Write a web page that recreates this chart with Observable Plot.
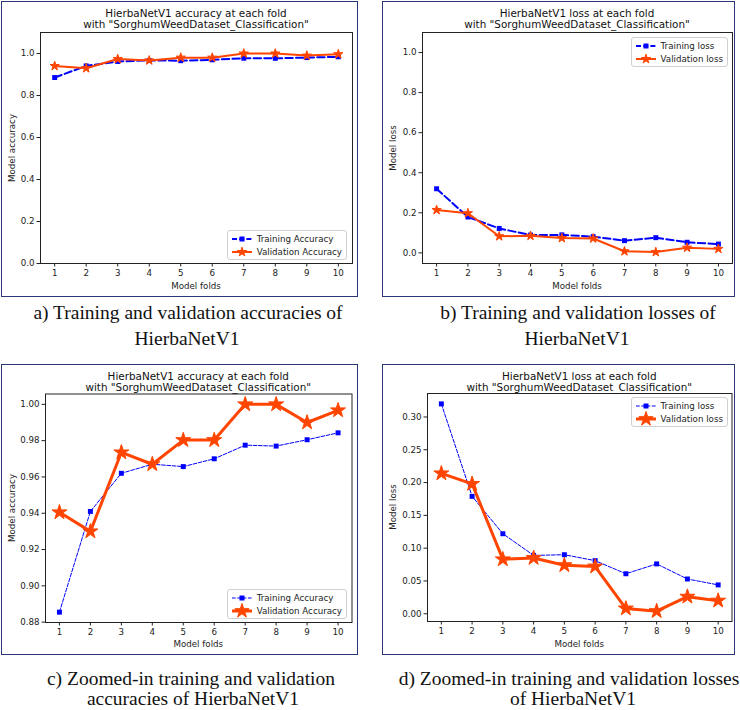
<!DOCTYPE html>
<html>
<head>
<meta charset="utf-8">
<script src="https://cdn.jsdelivr.net/npm/d3@7"></script>
<script src="https://cdn.jsdelivr.net/npm/@observablehq/plot@0.6"></script>
<style>
  body { margin: 0; background: #fff; }
  #root { position: relative; width: 740px; height: 710px; background: #fff; overflow: hidden; }
  .border { position: absolute; border: 1.5px solid #2a3878; box-sizing: border-box; }
  .title { position: absolute; font-family: "DejaVu Sans", sans-serif; font-size: 10.4px; line-height: 11.5px; color: #111; text-align: center; white-space: nowrap; transform: translateX(-50%); }
  .axlab { position: absolute; font-family: "DejaVu Sans", sans-serif; font-size: 8.7px; line-height: 10px; color: #222; white-space: nowrap; }
  .caption { position: absolute; font-family: "Liberation Serif", "Times New Roman", serif; font-size: 19.5px; line-height: 14px; color: #111; text-align: center; white-space: nowrap; transform: translateX(-50%); }
  .legend { position: absolute; background: #fff; border: 1px solid #d0d0d0; border-radius: 3px; box-sizing: border-box; font-family: "DejaVu Sans", sans-serif; font-size: 8.7px; color: #222; padding: 1px 4px 1px 3px; }
  .legend .row { display: flex; align-items: center; height: 13px; white-space: nowrap; }
  .legend svg { margin-right: 4px; }
</style>
</head>
<body>
<div id="root"></div>
<script>
// ---- data ----
const folds = [1, 2, 3, 4, 5, 6, 7, 8, 9, 10];
const trainAcc = [0.8855, 0.941, 0.962, 0.967, 0.9657, 0.970, 0.9775, 0.977, 0.9805, 0.9843];
const valAcc = [0.9405, 0.930, 0.9735, 0.967, 0.9803, 0.9803, 1.000, 1.000, 0.990, 0.9967];
const trainLoss = [0.320, 0.179, 0.122, 0.089, 0.090, 0.081, 0.061, 0.076, 0.053, 0.044];
const valLoss = [0.214, 0.198, 0.083, 0.085, 0.074, 0.072, 0.008, 0.004, 0.026, 0.020];

const ticksFull = [0, 0.2, 0.4, 0.6, 0.8, 1.0];
const ticksAccZoom = [0.88, 0.90, 0.92, 0.94, 0.96, 0.98, 1.00];
const ticksLossZoom = [0, 0.05, 0.10, 0.15, 0.20, 0.25, 0.30];

const titlesLine1 = ["HierbaNetV1 accuracy at each fold", "HierbaNetV1 loss at each fold"];
const titleLine2 = 'with "SorghumWeedDataset_Classification"';
const legendAcc = ["Training Accuracy", "Validation Accuracy"];
const legendLoss = ["Training loss", "Validation loss"];
const captions = [
  ["a) Training and validation accuracies of", "HierbaNetV1"],
  ["b) Training and validation losses of", "HierbaNetV1"],
  ["c) Zoomed-in training and validation", "accuracies of HierbaNetV1"],
  ["d) Zoomed-in training and validation losses", "of HierbaNetV1"]
];

const BLUE = "#0000ff";
const RED = "#ff4500";
const root = document.getElementById("root");

function el(cls, html, css) {
  const d = document.createElement("div");
  d.className = cls;
  if (html != null) d.innerHTML = html;
  Object.assign(d.style, css);
  root.appendChild(d);
  return d;
}

function legendSample(thin, isTrain) {
  const w = 22, h = 12;
  if (isTrain) {
    const dash = thin ? "3.7,1.6" : "5,2.2";
    const sw = thin ? 1 : 2;
    return `<svg width="${w}" height="${h}"><line x1="1" x2="${w-1}" y1="${h/2}" y2="${h/2}" stroke="${BLUE}" stroke-width="${sw}" stroke-dasharray="${dash}"/><rect x="${w/2-2.5}" y="${h/2-2.5}" width="5" height="5" fill="${BLUE}"/></svg>`;
  } else {
    const sw = thin ? 3 : 2;
    const R = thin ? 7.5 : 4.8;
    const star = d3.symbol(d3.symbolStar, Math.pow(R, 2) / 0.8908)();
    return `<svg width="${w}" height="${h}" style="overflow:visible"><line x1="1" x2="${w-1}" y1="${h/2}" y2="${h/2}" stroke="${RED}" stroke-width="${sw}"/><path d="${star}" transform="translate(${w/2},${h/2})" fill="${RED}" stroke="${RED}" stroke-width="1"/></svg>`;
  }
}

function panel(o) {
  const data = folds.map((f, i) => ({fold: f, train: o.train[i], val: o.val[i]}));
  const sqR = 2.8;
  const starR = o.thin ? 4.7 : 2.9;
  const chart = Plot.plot({
    width: o.w, height: o.h,
    marginLeft: o.ml, marginRight: o.mr, marginTop: o.mt, marginBottom: o.mb,
    style: {fontFamily: "DejaVu Sans, sans-serif", fontSize: "8.7px", color: "#222", background: "transparent", overflow: "visible"},
    x: {domain: [0.55, 10.45], ticks: folds, tickFormat: d => String(d), label: null, tickSize: 3.5, tickPadding: 2.5},
    y: {domain: o.yDomain, ticks: o.yTicks, tickFormat: d3.format(o.yFmt), label: null, tickSize: 3.5, tickPadding: 2.5},
    marks: [
      Plot.lineY(data, {x: "fold", y: "train", stroke: BLUE, strokeWidth: o.thin ? 1 : 2, strokeDasharray: o.thin ? "3.7,1.6" : "7.4,3.2"}),
      Plot.dot(data, {x: "fold", y: "train", symbol: "square", r: sqR, fill: BLUE, stroke: "none"}),
      Plot.lineY(data, {x: "fold", y: "val", stroke: RED, strokeWidth: o.thin ? 3 : 2}),
      Plot.dot(data, {x: "fold", y: "val", symbol: "star", r: starR, fill: RED, stroke: RED, strokeWidth: 1}),
      Plot.frame({stroke: "#222", strokeWidth: 1})
    ]
  });
  chart.style.position = "absolute";
  chart.style.left = o.left + "px";
  chart.style.top = o.top + "px";
  root.appendChild(chart);

  const fx0 = o.left + o.ml, fx1 = o.left + o.w - o.mr;
  const fy0 = o.top + o.mt, fy1 = o.top + o.h - o.mb;
  const cx = (fx0 + fx1) / 2;

  el("border", null, {left: o.border[0] + "px", top: o.border[1] + "px", width: o.border[2] + "px", height: o.border[3] + "px"});
  el("title", o.title + "<br>" + titleLine2, {left: cx + "px", top: o.titleTop + "px"});
  const xl = el("axlab", "Model folds", {left: cx + "px", top: o.xLabY + "px"});
  xl.style.transform = "translate(-50%,-50%)";
  const yl = el("axlab", o.yLabel, {left: o.yLabX + "px", top: ((fy0 + fy1) / 2) + "px"});
  yl.style.transform = "translate(-50%,-50%) rotate(-90deg)";

  const lg = el("legend", null, {right: (740 - o.leg[0]) + "px", top: o.leg[1] + "px"});
  lg.innerHTML =
    `<div class="row">${legendSample(o.thin, true)}<span>${o.legend[0]}</span></div>` +
    `<div class="row">${legendSample(o.thin, false)}<span>${o.legend[1]}</span></div>`;

  o.caption.forEach((t, i) => {
    el("caption", t, {left: o.capX[i] + "px", top: (o.capY[i] - 7) + "px"});
  });
}

panel({
  left: 0, top: 0, w: 360, h: 300, ml: 40, mr: 8, mt: 32, mb: 37,
  yDomain: [0, 1.1], yTicks: ticksFull, yFmt: ".1f",
  train: trainAcc, val: valAcc, thin: false,
  border: [1, 1, 357, 296], title: titlesLine1[0], titleTop: 7.5, xLabY: 286, yLabX: 12, yLabel: "Model accuracy",
  legend: legendAcc, leg: [347, 230],
  caption: captions[0], capX: [188, 187], capY: [313, 339]
});
panel({
  left: 370, top: 0, w: 370, h: 300, ml: 52, mr: 8, mt: 32, mb: 37,
  yDomain: [-0.053, 1.1], yTicks: ticksFull, yFmt: ".1f",
  train: trainLoss, val: valLoss, thin: false,
  border: [382, 1, 353, 296], title: titlesLine1[1], titleTop: 7.5, xLabY: 286, yLabX: 393, yLabel: "Model loss",
  legend: legendLoss, leg: [728, 37],
  caption: captions[1], capX: [578, 577], capY: [313, 339]
});
panel({
  left: 0, top: 360, w: 360, h: 300, ml: 45, mr: 8.5, mt: 33.5, mb: 38,
  yDomain: [0.8798, 1.0057], yTicks: ticksAccZoom, yFmt: ".2f",
  train: trainAcc, val: valAcc, thin: true,
  border: [1, 364, 357, 291], title: titlesLine1[0], titleTop: 370.5, xLabY: 644, yLabX: 12, yLabel: "Model accuracy",
  legend: legendAcc, leg: [347, 589],
  caption: captions[2], capX: [191, 193], capY: [679, 699]
});
panel({
  left: 370, top: 360, w: 370, h: 300, ml: 57, mr: 8.5, mt: 33, mb: 39,
  yDomain: [-0.0118, 0.3358], yTicks: ticksLossZoom, yFmt: ".2f",
  train: trainLoss, val: valLoss, thin: true,
  border: [382, 364, 353, 291], title: titlesLine1[1], titleTop: 370.5, xLabY: 644, yLabX: 393, yLabel: "Model loss",
  legend: legendLoss, leg: [728, 397],
  caption: captions[3], capX: [569, 573], capY: [679, 699]
});
</script>
</body>
</html>
